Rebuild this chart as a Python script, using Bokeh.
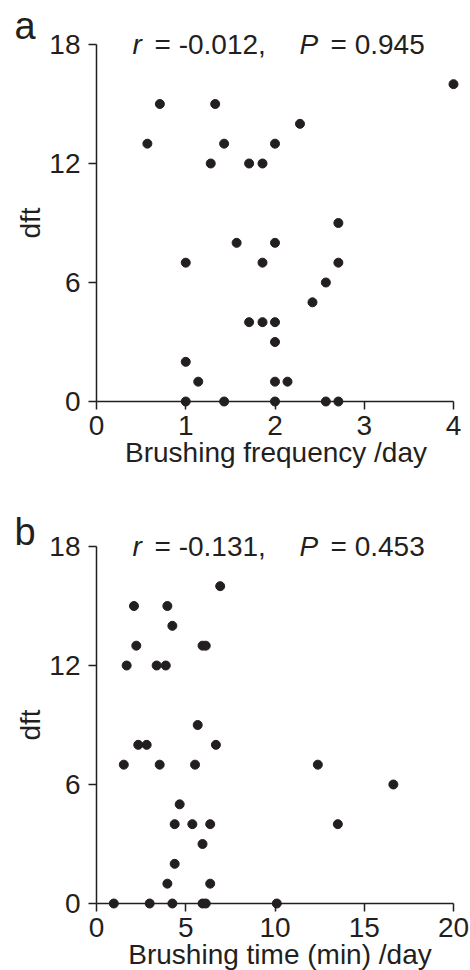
from bokeh.plotting import figure
from bokeh.layouts import column
from bokeh.models import Range1d, FixedTicker, ColumnDataSource
from bokeh.core.properties import value
from bokeh.embed import file_html
from bokeh.resources import INLINE

# ---- data ----
freq_a = [4.0, 0.71, 1.33, 0.57, 1.43, 2.0, 2.28, 1.28, 1.71, 1.86,
          2.71, 1.57, 2.0, 1.0, 1.86, 2.71, 2.57, 2.42, 1.71, 1.86,
          2.0, 2.0, 1.0, 1.14, 2.0, 2.14, 1.0, 1.43, 2.0, 2.57, 2.71]
dft_a = [16, 15, 15, 13, 13, 13, 14, 12, 12, 12,
         9, 8, 8, 7, 7, 7, 6, 5, 4, 4,
         4, 3, 2, 1, 1, 1, 0, 0, 0, 0, 0]

time_b = [6.93, 2.10, 3.97, 4.25, 2.23, 5.94, 6.12, 1.69, 3.37, 3.88,
          5.67, 2.34, 2.81, 6.69, 1.53, 3.54, 5.52, 12.4, 16.63, 4.66,
          4.38, 5.37, 6.37, 13.52, 5.94, 4.38, 3.97, 6.37, 0.97, 2.98,
          4.25, 5.94, 6.12, 10.1]
dft_b = [16, 15, 15, 14, 13, 13, 13, 12, 12, 12,
         9, 8, 8, 8, 7, 7, 7, 7, 6, 5,
         4, 4, 4, 4, 3, 2, 1, 1, 0, 0,
         0, 0, 0, 0]

x_ticks_a = [0, 1, 2, 3, 4]
x_ticks_b = [0, 5, 10, 15, 20]
y_ticks = [0, 6, 12, 18]

x_label_a = "Brushing frequency /day"
x_label_b = "Brushing time (min) /day"
y_label = "dft"
letters = ["a", "b"]
r_texts = ["= -0.012,", "= -0.131,"]
p_texts = ["= 0.945", "= 0.453"]

INK = "#231F20"
FONT = "Liberation Sans"


def txt(p, x, y, s, size, dx, dy, align="left", style="normal"):
    p.text(x=[x], y=[y], text=[s], x_offset=dx, y_offset=dy,
           text_font=value(FONT), text_font_size=value(size),
           text_font_style=style, text_color=INK,
           text_align=align, text_baseline="alphabetic", level="overlay")


def panel(xs, ys, xticks, xlabel, letter, r_txt, p_txt,
          height, top, bottom, right, letter_dy, title_dx):
    p = figure(width=470, height=height,
               x_range=Range1d(xticks[0], xticks[-1]),
               y_range=Range1d(y_ticks[0], y_ticks[-1]),
               output_backend="svg", toolbar_location=None,
               min_border_left=96, min_border_right=right,
               min_border_top=top, min_border_bottom=bottom)
    p.outline_line_color = None
    p.grid.visible = False
    p.background_fill_color = "white"
    p.border_fill_color = "white"

    p.xaxis.ticker = FixedTicker(ticks=xticks)
    p.yaxis.ticker = FixedTicker(ticks=y_ticks)
    p.yaxis.axis_label = y_label
    for ax in (p.xaxis, p.yaxis):
        ax.axis_line_width = 1.5
        ax.axis_line_color = INK
        ax.major_tick_line_width = 1.5
        ax.major_tick_line_color = INK
        ax.major_tick_out = 8
        ax.major_tick_in = 0
        ax.minor_tick_out = 0
        ax.minor_tick_in = 0
        ax.major_label_text_font = FONT
        ax.major_label_text_font_size = "28px"
        ax.major_label_text_color = INK
        ax.axis_label_text_font = FONT
        ax.axis_label_text_font_size = "28px"
        ax.axis_label_text_font_style = "normal"
        ax.axis_label_text_color = INK
    p.xaxis.major_label_standoff = 6
    p.yaxis.major_label_standoff = 8
    p.yaxis.axis_label_standoff = 0

    src = ColumnDataSource(dict(x=xs, y=ys))
    p.scatter("x", "y", source=src, size=9, fill_color=INK, line_color=INK,
              level="overlay")

    x0, ytop = xticks[0], y_ticks[-1]
    xmid = (xticks[0] + xticks[-1]) / 2
    txt(p, x0, ytop, letter, "38px", -82, letter_dy)
    txt(p, x0, ytop, "r", "28px", 36, 0, style="italic")
    txt(p, x0, ytop, r_txt, "28px", 58, 0)
    txt(p, x0, ytop, "P", "28px", 203, 0, style="italic")
    txt(p, x0, ytop, p_txt, "28px", 234, 0)
    txt(p, xmid, y_ticks[0], xlabel, "28px", title_dx, 51, align="center")
    return p


pa = panel(freq_a, dft_a, x_ticks_a, x_label_a, letters[0],
           r_texts[0], p_texts[0], 480, 44, 79, 13, -19, 1)
pb = panel(time_b, dft_b, x_ticks_b, x_label_b, letters[1],
           r_texts[1], p_texts[1], 490, 66, 67, 17, -15, 5)

layout = column(pa, pb)
open("out.html", "w").write(file_html(layout, INLINE))
